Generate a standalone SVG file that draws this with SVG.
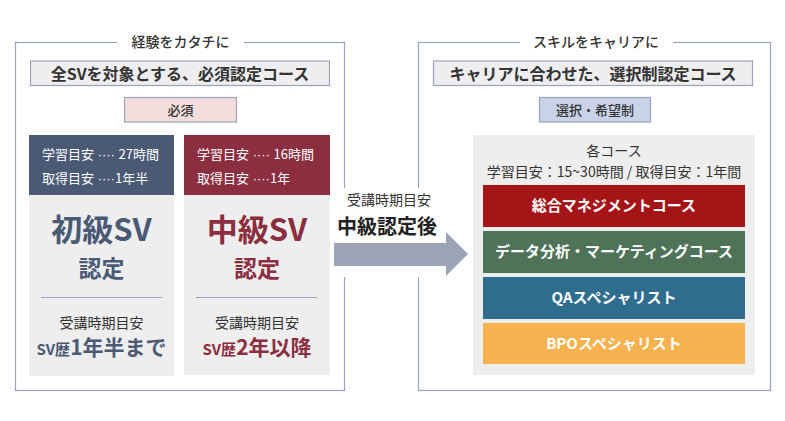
<svg xmlns="http://www.w3.org/2000/svg" width="785" height="421" viewBox="0 0 785 421">
<style>
text{font-family:"Noto Sans CJK JP","Noto Sans",sans-serif;}
.frame{fill:none;stroke:#9aa4b8;stroke-width:1.2;}
.gap{fill:#ffffff;}
.ttl{font-size:14px;font-weight:500;fill:#333;text-anchor:middle;}
.sub{fill:#eeeeee;stroke:#9aa4b8;stroke-width:1.2;}
.subt{font-size:16px;font-weight:700;fill:#333;text-anchor:middle;}
.tag{font-size:13px;font-weight:500;fill:#333;text-anchor:middle;}
.card{fill:#eeeeee;}
.hdr{font-size:13px;fill:#ffffff;}
.dots{font-family:"Liberation Sans",sans-serif;}
.sep{stroke:#9aa4b8;stroke-width:1;}
.big{font-size:31px;font-weight:700;text-anchor:middle;}
.mid{font-size:23px;font-weight:700;text-anchor:middle;}
.sm{font-size:14px;fill:#333;text-anchor:middle;}
.blue{fill:#4a5a75;}
.red{fill:#8b2e3f;}
.bar{font-size:15px;font-weight:700;fill:#ffffff;text-anchor:middle;}
</style>
<rect width="785" height="421" fill="#ffffff"/>

<g id="left-frame">
<rect class="frame" x="15.5" y="42.5" width="329" height="348"/>
<rect class="gap" x="117" y="36" width="127" height="12"/>
<text class="ttl" x="180.5" y="47">経験をカタチに</text>
<rect class="sub" x="30.5" y="61" width="299" height="24.5"/>
<text class="subt" x="180" y="80">全SVを対象とする、必須認定コース</text>
<rect x="124.5" y="97.5" width="112" height="24.5" fill="#f2dcdc" stroke="#9aa4b8" stroke-width="1.2"/>
<text class="tag" x="180.5" y="114.5">必須</text>
</g>

<g id="card-beginner">
<rect class="card" x="29" y="135" width="145" height="241"/>
<rect x="29" y="135" width="145" height="60" fill="#4a5a75"/>
<text class="hdr" x="42" y="159">学習目安<tspan class="dots"> ···· </tspan>27時間</text>
<text class="hdr" x="42" y="183">取得目安<tspan class="dots"> ····</tspan>1年半</text>
<text class="big blue" x="101.5" y="241">初級SV</text>
<text class="mid blue" x="101.5" y="277">認定</text>
<line class="sep" x1="41" y1="297.5" x2="162" y2="297.5"/>
<text class="sm" x="101.5" y="328">受講時期目安</text>
<text x="101.5" y="355" text-anchor="middle" font-weight="700" class="blue"><tspan font-size="15px">SV歴</tspan><tspan font-size="21px">1年半まで</tspan></text>
</g>

<g id="card-intermediate">
<rect class="card" x="184" y="135" width="146" height="240"/>
<rect x="184" y="135" width="146" height="60" fill="#8b2e3f"/>
<text class="hdr" x="197" y="159">学習目安<tspan class="dots"> ···· </tspan>16時間</text>
<text class="hdr" x="197" y="183">取得目安<tspan class="dots"> ····</tspan>1年</text>
<text class="big red" x="257" y="241">中級SV</text>
<text class="mid red" x="257" y="277">認定</text>
<line class="sep" x1="196" y1="297.5" x2="317" y2="297.5"/>
<text class="sm" x="257" y="328">受講時期目安</text>
<text x="257" y="355" text-anchor="middle" font-weight="700" class="red"><tspan font-size="15px">SV歴</tspan><tspan font-size="21px">2年以降</tspan></text>
</g>

<g id="right-frame">
<rect class="frame" x="418.5" y="42.5" width="352" height="348"/>
<rect class="gap" x="520" y="36" width="153" height="12"/>
<text class="ttl" x="596" y="47">スキルをキャリアに</text>
<rect class="sub" x="433.5" y="61" width="319" height="24.5"/>
<text class="subt" x="593" y="80">キャリアに合わせた、選択制認定コース</text>
<rect x="539.5" y="97.5" width="111" height="24.5" fill="#c9d3e8" stroke="#9aa4b8" stroke-width="1.2"/>
<text class="tag" x="595" y="114.5">選択・希望制</text>
</g>

<g id="courses">
<rect class="card" x="473" y="135" width="282" height="240"/>
<text class="sm" x="614" y="156">各コース</text>
<text class="sm" x="614" y="177">学習目安：15~30時間 / 取得目安：1年間</text>
<g id="course-management">
<rect x="483" y="185" width="262" height="42" fill="#a51518"/>
<text class="bar" x="614" y="211">総合マネジメントコース</text>
</g>
<g id="course-data">
<rect x="483" y="231" width="262" height="42" fill="#4e7359"/>
<text class="bar" x="614" y="257">データ分析・マーケティングコース</text>
</g>
<g id="course-qa">
<rect x="483" y="277" width="262" height="42" fill="#2e6d8e"/>
<text class="bar" x="614" y="303">QAスペシャリスト</text>
</g>
<g id="course-bpo">
<rect x="483" y="323" width="262" height="41" fill="#f7b24f"/>
<text class="bar" x="614" y="349">BPOスペシャリスト</text>
</g>
</g>

<g id="connectors">
<rect class="gap" x="338" y="188" width="88" height="89"/>
<polygon points="334,243 446,243 446,232 468,254 446,276 446,266 334,266" fill="#9ba4b5"/>
<text class="sm" x="389" y="205">受講時期目安</text>
<text x="387" y="234" font-size="20px" font-weight="700" fill="#222" text-anchor="middle">中級認定後</text>
</g>
</svg>
